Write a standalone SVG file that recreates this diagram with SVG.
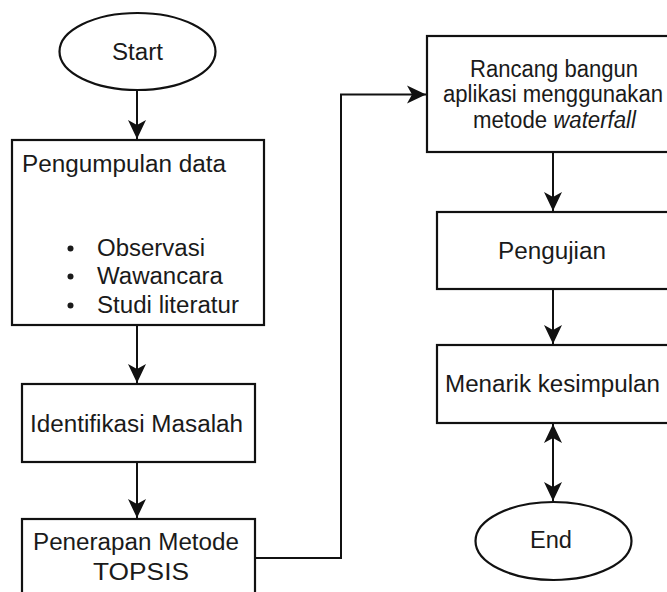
<svg xmlns="http://www.w3.org/2000/svg" width="667" height="592" viewBox="0 0 667 592">
<style>
.s{fill:#fff;stroke:#111;stroke-width:2.2}
.c{fill:none;stroke:#111;stroke-width:2}
text{font-family:"Liberation Sans",Arial,sans-serif;font-size:23px;fill:#1a1a1a}
.m{text-anchor:middle}
</style>
<defs>
<marker id="ar" markerUnits="userSpaceOnUse" markerWidth="22" markerHeight="20" refX="19" refY="9" orient="auto-start-reverse" viewBox="0 0 22 18">
<path d="M0,0 L19,9 L0,18 L5,9 z" fill="#111"/>
</marker>
</defs>
<rect width="667" height="592" fill="#fff"/>
<g id="connectors">
<path class="c" d="M137,90 V139" marker-end="url(#ar)"/>
<path class="c" d="M137,325 V383" marker-end="url(#ar)"/>
<path class="c" d="M137,462 V518" marker-end="url(#ar)"/>
<path class="c" d="M255,558 H341 V94.5 H426" marker-end="url(#ar)"/>
<path class="c" d="M553,152 V211" marker-end="url(#ar)"/>
<path class="c" d="M553,289 V344" marker-end="url(#ar)"/>
<path class="c" d="M553,424 V501" marker-start="url(#ar)" marker-end="url(#ar)"/>
</g>
<g id="start">
<ellipse class="s" cx="137.5" cy="51.5" rx="78" ry="38.5"/>
<text x="137.5" y="59.5" class="m" textLength="51" lengthAdjust="spacingAndGlyphs">Start</text>
</g>
<g id="pengumpulan">
<rect class="s" x="12" y="140" width="252" height="185"/>
<text x="22" y="172" textLength="204" lengthAdjust="spacingAndGlyphs">Pengumpulan data</text>
<circle cx="70.5" cy="248.5" r="3" fill="#1a1a1a"/>
<circle cx="70.5" cy="276.5" r="3" fill="#1a1a1a"/>
<circle cx="70.5" cy="305.5" r="3" fill="#1a1a1a"/>
<text x="97" y="256" textLength="108" lengthAdjust="spacingAndGlyphs">Observasi</text>
<text x="97" y="284" textLength="126" lengthAdjust="spacingAndGlyphs">Wawancara</text>
<text x="97" y="313" textLength="142" lengthAdjust="spacingAndGlyphs">Studi literatur</text>
</g>
<g id="identifikasi">
<rect class="s" x="22" y="384" width="233" height="78"/>
<text x="30" y="432" textLength="213" lengthAdjust="spacingAndGlyphs">Identifikasi Masalah</text>
</g>
<g id="penerapan">
<rect class="s" x="22" y="519" width="233" height="90"/>
<text x="33" y="550" textLength="206" lengthAdjust="spacingAndGlyphs">Penerapan Metode</text>
<text x="93" y="580" textLength="96" lengthAdjust="spacingAndGlyphs">TOPSIS</text>
</g>
<g id="rancang">
<rect class="s" x="427" y="36" width="252" height="116"/>
<text x="470" y="77" textLength="168" lengthAdjust="spacingAndGlyphs">Rancang bangun</text>
<text x="443" y="102" textLength="220" lengthAdjust="spacingAndGlyphs">aplikasi menggunakan</text>
<text x="473" y="128" textLength="163" lengthAdjust="spacingAndGlyphs">metode <tspan font-style="italic">waterfall</tspan></text>
</g>
<g id="pengujian">
<rect class="s" x="437" y="212" width="232" height="77"/>
<text x="498" y="259" textLength="108" lengthAdjust="spacingAndGlyphs">Pengujian</text>
</g>
<g id="menarik">
<rect class="s" x="437" y="345" width="232" height="78"/>
<text x="445" y="392" textLength="215" lengthAdjust="spacingAndGlyphs">Menarik kesimpulan</text>
</g>
<g id="end">
<ellipse class="s" cx="553.5" cy="541" rx="78" ry="39"/>
<text x="530" y="548" textLength="42" lengthAdjust="spacingAndGlyphs">End</text>
</g>
</svg>
